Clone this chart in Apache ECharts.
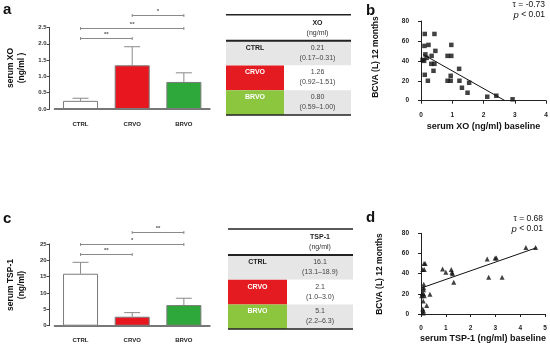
<!DOCTYPE html>
<html><head><meta charset="utf-8">
<script src="https://cdn.jsdelivr.net/npm/echarts@6/dist/echarts.min.js"></script>
<style>html,body{margin:0;padding:0;background:#fff}#c{width:550px;height:347px}</style>
</head><body><div id="c"></div>
<script>
// ---------- data ----------
const groups = ['CTRL', 'CRVO', 'BRVO'];
const xoMean = [0.25, 1.34, 0.83];
const xoErr = [0.33, 1.91, 1.11];
const tspMean = [15.9, 2.75, 6.3];
const tspErr = [19.4, 4.0, 8.4];
const xoSig = [[0, 1, 2.19], [0, 2, 2.49], [1, 2, 2.87]];
const xoSigLabel = ['**', '**', '*'];
const tspSig = [[0, 1, 21.85], [0, 2, 25], [1, 2, 28.7]];
const tspSigLabel = ['**', '*', '**'];

const xoTableHeader = ['XO', '(ng/ml)'];
const xoTableMedian = ['0.21', '1.26', '0.80'];
const xoTableRange = ['(0.17–0.31)', '(0.92–1.51)', '(0.59–1.00)'];
const tspTableHeader = ['TSP-1', '(ng/ml)'];
const tspTableMedian = ['16.1', '2.1', '5.1'];
const tspTableRange = ['(13.1–18.9)', '(1.0–3.0)', '(2.2–6.3)'];

const xoScatter = [[0.12,67],[0.43,67],[0.11,55],[0.24,56],[0.97,56],[0.46,50],[0.34,45],[0.14,46.5],
  [0.85,45],[0.97,45],[0.05,41],[0.1,40],[0.18,43],[0.33,37],[0.43,37],[1.22,32],[0.4,30],[0.12,26],
  [0.95,25],[0.22,20],[0.85,20],[0.95,20],[1.23,20],[1.54,18],[1.31,13],[1.49,8],[2.12,4],[2.41,5],[2.93,1.4]];
const xoFit = [[0.07, 46.4], [2.69, 0]];
const xoStats = ['τ = -0.73', '< 0.01'];

const tspScatter = [[0.12,50],[0.17,50],[0.07,44],[0.13,44],[0.87,44.5],[1.0,41.5],[1.22,44],[1.25,41.5],
  [1.27,40],[1.32,31.5],[0.11,29.5],[0.11,26],[0.1,24],[0.05,20],[0.1,20],[0.13,18],[0.03,18],[0.36,19.5],
  [0.09,13],[0.23,8.5],[0.07,5],[0.1,3],[0.09,1],[2.67,54.5],[2.73,36.5],[2.99,55.5],[3.04,55.5],[3.27,36.5],
  [4.23,66],[4.62,66]];
const tspFit = [[0.04, 26], [4.66, 65.7]];
const tspStats = ['τ = 0.68', '< 0.01'];

// ---------- styles ----------
const FONT = 'Liberation Sans, Arial, sans-serif';
const barFill = ['#ffffff', '#e8171f', '#2ea83a'];
const tableFill = ['#e6e6e6', '#e41c22', '#8cc63f'];

const chart = echarts.init(document.getElementById('c'));

function errRender(params, api) {
  const i = api.value(0);
  const p0 = api.coord([i, api.value(1)]);
  const p1 = api.coord([i, api.value(2)]);
  const w = 8;
  return { type: 'group', children: [
    { type: 'line', shape: { x1: p0[0], y1: p0[1], x2: p1[0], y2: p1[1] }, style: { stroke: '#8a8a8a', lineWidth: 1 } },
    { type: 'line', shape: { x1: p1[0] - w, y1: p1[1], x2: p1[0] + w, y2: p1[1] }, style: { stroke: '#8a8a8a', lineWidth: 1 } }
  ]};
}
function sigRender(labels) {
  return function (params, api) {
    const a = api.coord([api.value(0), api.value(2)]);
    const b = api.coord([api.value(1), api.value(2)]);
    const y = Math.round(a[1]) + 0.5;
    return { type: 'group', children: [
      { type: 'line', shape: { x1: a[0], y1: y, x2: b[0], y2: y }, style: { stroke: '#8a8a8a', lineWidth: 1.2 } },
      { type: 'line', shape: { x1: a[0], y1: y - 1.5, x2: a[0], y2: y + 1.5 }, style: { stroke: '#8a8a8a', lineWidth: 1 } },
      { type: 'line', shape: { x1: b[0], y1: y - 1.5, x2: b[0], y2: y + 1.5 }, style: { stroke: '#8a8a8a', lineWidth: 1 } },
      { type: 'text', x: (a[0] + b[0]) / 2, y: y - 1, style: { text: labels[params.dataIndex], align: 'center', verticalAlign: 'bottom', font: 'bold 6px ' + FONT, fill: '#555' } }
    ]};
  };
}

function barX(gi) {
  return { type: 'category', gridIndex: gi, data: groups, offset: 8,
    axisLine: { lineStyle: { color: '#777', width: 2 } }, axisTick: { show: false },
    axisLabel: { fontFamily: FONT, fontSize: 6, fontWeight: 'bold', color: '#222', margin: 4 } };
}
function barY(gi, max, interval, dec) {
  return { type: 'value', gridIndex: gi, min: 0, max: max, interval: interval, offset: 5,
    axisLine: { show: true, lineStyle: { color: '#444', width: 1 } },
    axisTick: { show: true, length: 3, lineStyle: { color: '#444' } },
    splitLine: { show: false },
    axisLabel: { fontFamily: FONT, fontSize: 6, fontWeight: 'bold', color: '#333', margin: 3,
      formatter: v => v.toFixed(dec) } };
}
function scX(gi, max, name, gap) {
  return { type: 'value', gridIndex: gi, min: 0, max: max, interval: 1, offset: 8,
    axisLine: { show: true, lineStyle: { color: '#222', width: 1 } },
    axisTick: { show: true, length: 3, lineStyle: { color: '#222' } },
    splitLine: { show: false },
    axisLabel: { fontFamily: FONT, fontSize: 6.5, fontWeight: 'bold', color: '#222', margin: 3 },
    name: name, nameLocation: 'middle', nameGap: gap,
    nameTextStyle: { fontFamily: FONT, fontSize: 9, fontWeight: 'bold', color: '#111' } };
}
function scY(gi) {
  return { type: 'value', gridIndex: gi, min: 0, max: 80, interval: 20, offset: 9,
    axisLine: { show: true, lineStyle: { color: '#222', width: 1 } },
    axisTick: { show: true, length: 3, lineStyle: { color: '#222' } },
    splitLine: { show: false },
    axisLabel: { fontFamily: FONT, fontSize: 6.5, fontWeight: 'bold', color: '#222', margin: 3 } };
}

function barSeries(gi, means) {
  return { type: 'bar', xAxisIndex: gi, yAxisIndex: gi, barWidth: 35, z: 3,
    data: means.map((v, i) => ({ value: v, itemStyle: { color: barFill[i], borderColor: '#7a7a7a', borderWidth: 1 } })) };
}

// ---------- tables ----------
function table(x0, xs, x1, yTop, yHead, rowH, header, med, rng) {
  const els = [];
  const xc1 = (x0 + xs) / 2, xc2 = (xs + x1) / 2;
  groups.forEach((g, i) => {
    const y = yHead + i * rowH;
    els.push({ type: 'rect', shape: { x: x0, y: y, width: xs - x0, height: rowH }, style: { fill: tableFill[i] } });
    els.push({ type: 'rect', shape: { x: xs, y: y, width: x1 - xs, height: rowH }, style: { fill: i === 1 ? '#ffffff' : '#e6e6e6' } });
    els.push({ type: 'text', x: xc1, y: y + 7, style: { text: g, align: 'center', verticalAlign: 'middle', font: 'bold 7px ' + FONT, fill: i === 0 ? '#222' : '#fff' } });
    els.push({ type: 'text', x: xc2, y: y + 7, style: { text: med[i], align: 'center', verticalAlign: 'middle', font: '7px ' + FONT, fill: '#444' } });
    els.push({ type: 'text', x: xc2, y: y + 17, style: { text: rng[i], align: 'center', verticalAlign: 'middle', font: '7px ' + FONT, fill: '#444' } });
  });
  els.push({ type: 'text', x: xc2, y: yTop + 8, style: { text: header[0], align: 'center', verticalAlign: 'middle', font: 'bold 7px ' + FONT, fill: '#222' } });
  els.push({ type: 'text', x: xc2, y: yTop + 18, style: { text: header[1], align: 'center', verticalAlign: 'middle', font: '7px ' + FONT, fill: '#333' } });
  const yBot = yHead + 3 * rowH;
  els.push({ type: 'line', shape: { x1: x0, y1: yTop, x2: x1, y2: yTop }, style: { stroke: '#222', lineWidth: 1.5 } });
  els.push({ type: 'line', shape: { x1: x0, y1: yHead, x2: x1, y2: yHead }, style: { stroke: '#222', lineWidth: 2 } });
  els.push({ type: 'line', shape: { x1: x0, y1: yBot, x2: x1, y2: yBot }, style: { stroke: '#222', lineWidth: 1.5 } });
  return els;
}

function rotText(x, y, text) {
  return { type: 'text', x: x, y: y, rotation: Math.PI / 2,
    style: { text: text, align: 'center', verticalAlign: 'middle', font: 'bold 8.5px ' + FONT, fill: '#111', lineHeight: 11 } };
}
function letter(x, y, t) {
  return { type: 'text', x: x, y: y, style: { text: t, font: 'bold 15px ' + FONT, fill: '#111', verticalAlign: 'top' } };
}
function stats(xr, y, s) {
  return [
    { type: 'text', x: xr, y: y, style: { text: s[0], align: 'right', verticalAlign: 'middle', font: '8.5px ' + FONT, fill: '#111' } },
    { type: 'text', x: xr, y: y + 10, style: { text: '{i|p} ' + s[1], align: 'right', verticalAlign: 'middle', font: '8.5px ' + FONT, fill: '#111',
      rich: { i: { fontStyle: 'italic', fontSize: 9.5, fontFamily: FONT } } } }
  ];
}

const graphics = [].concat(
  table(226, 284, 351, 14.7, 40.7, 24.8, xoTableHeader, xoTableMedian, xoTableRange),
  table(228, 287, 353, 229, 255, 24.7, tspTableHeader, tspTableMedian, tspTableRange),
  [rotText(16, 68, 'serum XO\n(ng/ml )'), rotText(16, 285, 'serum TSP-1\n(ng/ml)'),
   rotText(376, 57, 'BCVA (L) 12 months'), rotText(380, 274, 'BCVA (L) 12 months'),
   letter(3, 2, 'a'), letter(366, 3, 'b'), letter(3, 211, 'c'), letter(366, 210, 'd')],
  stats(545, 5, xoStats), stats(543, 219, tspStats)
);

const option = {
  animation: false,
  backgroundColor: '#fff',
  grid: [
    { left: 54.7, top: 27.5, width: 155, height: 81.5, containLabel: false, outerBoundsMode: 'none' },
    { left: 421, top: 21, width: 125, height: 79.7, containLabel: false, outerBoundsMode: 'none' },
    { left: 54.7, top: 244, width: 155, height: 81.7, containLabel: false, outerBoundsMode: 'none' },
    { left: 421, top: 233.3, width: 124, height: 80.7, containLabel: false, outerBoundsMode: 'none' }
  ],
  xAxis: [barX(0), scX(1, 4, 'serum XO (ng/ml) baseline', 13), barX(2), scX(3, 5, 'serum TSP-1 (ng/ml) baseline', 12)],
  yAxis: [barY(0, 2.5, 0.5, 1), scY(1), barY(2, 25, 5, 0), scY(3)],
  series: [
    barSeries(0, xoMean),
    { type: 'custom', xAxisIndex: 0, yAxisIndex: 0, z: 2, clip: false, renderItem: errRender,
      data: xoMean.map((v, i) => [i, v, xoErr[i]]) },
    { type: 'custom', xAxisIndex: 0, yAxisIndex: 0, z: 4, clip: false, renderItem: sigRender(xoSigLabel), data: xoSig },
    barSeries(2, tspMean),
    { type: 'custom', xAxisIndex: 2, yAxisIndex: 2, z: 2, clip: false, renderItem: errRender,
      data: tspMean.map((v, i) => [i, v, tspErr[i]]) },
    { type: 'custom', xAxisIndex: 2, yAxisIndex: 2, z: 4, clip: false, renderItem: sigRender(tspSigLabel), data: tspSig },
    { type: 'scatter', xAxisIndex: 1, yAxisIndex: 1, symbol: 'rect', symbolSize: 4.5, itemStyle: { color: '#111' }, data: xoScatter },
    { type: 'line', xAxisIndex: 1, yAxisIndex: 1, symbol: 'none', lineStyle: { color: '#111', width: 1 }, data: xoFit },
    { type: 'scatter', xAxisIndex: 3, yAxisIndex: 3, symbol: 'triangle', symbolSize: 5, itemStyle: { color: '#111' }, data: tspScatter },
    { type: 'line', xAxisIndex: 3, yAxisIndex: 3, symbol: 'none', lineStyle: { color: '#111', width: 1 }, data: tspFit }
  ],
  graphic: graphics
};
chart.setOption(option);
</script></body></html>
